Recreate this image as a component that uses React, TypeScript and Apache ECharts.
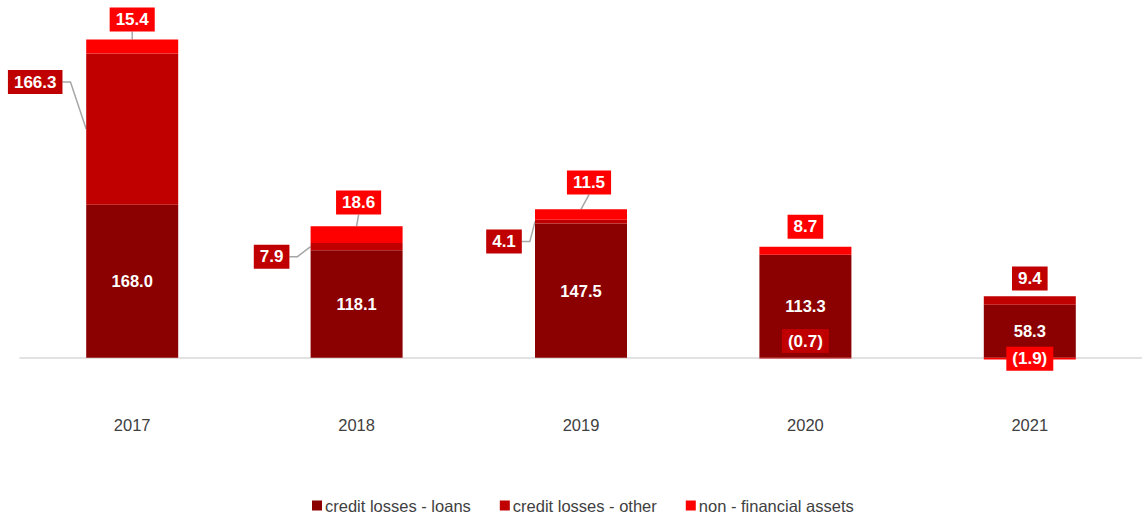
import React, { useEffect, useRef } from "react";
import * as echarts from "echarts";

const categories = ["2017", "2018", "2019", "2020", "2021"];
const loans = [168.0, 118.1, 147.5, 113.3, 58.3];
const other = [166.3, 7.9, 4.1, -0.7, 9.4];
const nfa = [15.4, 18.6, 11.5, 8.7, -1.9];
const seriesNames = ["credit losses - loans", "credit losses - other", "non - financial assets"];

const COLORS = ["#8B0000", "#C00000", "#FF0000"];
const FONT = '"Liberation Sans", Arial, sans-serif';
const BAR_W = 92;
// label offsets (layout only)
const otherOffsets = [[-97, -47], [-85, 10], [-77, 20], [0, -17], [0, -22]];
const nfaOffsets = [[0, -27], [2, -32], [8, -32], [0, -24], [0, 0]];
const otherLeader = [true, true, true, false, false];
const nfaLeader = [true, true, true, false, false];

const fmt = (v: number) => (v < 0 ? `(${Math.abs(v).toFixed(1)})` : v.toFixed(1));

function measure(t: string) {
  const c = document.createElement("canvas").getContext("2d")!;
  c.font = `bold 17px ${FONT}`;
  return c.measureText(t).width;
}

export default function App() {
  const ref = useRef<HTMLDivElement>(null);
  useEffect(() => {
    const chart = echarts.init(ref.current!, undefined, { renderer: "svg" });
    const boxLabel = (color: string, off: number[]) => ({
      show: true,
      position: "inside",
      offset: off,
      formatter: (p: any) => fmt(p.value),
      color: "#fff",
      fontWeight: "bold",
      fontSize: 17,
      fontFamily: FONT,
      lineHeight: 17,
      backgroundColor: color,
      padding: [3.5, 6],
    });
    chart.setOption({
      animation: false,
      textStyle: { fontFamily: FONT },
      grid: { left: 20, right: -5, top: 30, bottom: 142, containLabel: false },
      legend: {
        left: 307,
        top: 492,
        itemWidth: 10,
        itemHeight: 10,
        itemGap: 29,
        icon: "rect",
        textStyle: { color: "#404040", fontSize: 16.5, fontFamily: FONT, padding: [0, 0, 0, -2] },
        data: seriesNames,
      },
      xAxis: {
        type: "category",
        data: categories,
        axisLine: { onZero: true, lineStyle: { color: "#d9d9d9", width: 1.5 } },
        axisTick: { show: false },
        axisLabel: { color: "#404040", fontSize: 16.5, margin: 40, fontFamily: FONT },
      },
      yAxis: {
        type: "value",
        min: -20,
        max: 360,
        show: false,
        splitLine: { show: false },
      },
      series: [
        {
          name: seriesNames[0],
          type: "bar",
          stack: "s",
          barWidth: BAR_W,
          itemStyle: { color: COLORS[0] },
          data: loans,
          label: {
            show: true,
            position: "inside",
            formatter: (p: any) => fmt(p.value),
            color: "#fff",
            fontWeight: "bold",
            fontSize: 16.5,
            fontFamily: FONT,
          },
        },
        {
          name: seriesNames[1],
          type: "bar",
          stack: "s",
          barWidth: BAR_W,
          itemStyle: { color: COLORS[1] },
          data: other.map((v, i) => ({ value: v, label: boxLabel(COLORS[1], otherOffsets[i]) })),
        },
        {
          name: seriesNames[2],
          type: "bar",
          stack: "s",
          barWidth: BAR_W,
          itemStyle: { color: COLORS[2] },
          data: nfa.map((v, i) => ({ value: v, label: boxLabel(COLORS[2], nfaOffsets[i]) })),
        },
      ],
    });

    const px = (i: number, v: number) => chart.convertToPixel({ gridIndex: 0 }, [i, v]) as number[];
    const lines: any[] = [];
    const lineStyle = { stroke: "#a6a6a6", lineWidth: 1.5, fill: null };
    other.forEach((v, i) => {
      if (!otherLeader[i]) return;
      const seg = px(i, loans[i] + v / 2);
      const cx = seg[0];
      const segY = seg[1];
      const lx = cx + otherOffsets[i][0];
      const ly = segY + otherOffsets[i][1];
      const right = lx + measure(fmt(v)) / 2 + 6;
      lines.push({
        type: "polyline",
        silent: true,
        z: 1,
        shape: { points: [[right, ly], [right + 8, ly], [cx - BAR_W / 2, segY]] },
        style: lineStyle,
      });
    });
    nfa.forEach((v, i) => {
      if (!nfaLeader[i]) return;
      const base = loans[i] + Math.max(other[i], 0);
      const seg = px(i, base + v / 2);
      const top = px(i, base + v);
      const lx = seg[0] + nfaOffsets[i][0];
      const ly = seg[1] + nfaOffsets[i][1];
      lines.push({
        type: "line",
        silent: true,
        z: 1,
        shape: { x1: lx, y1: ly + 12, x2: seg[0], y2: top[1] },
        style: lineStyle,
      });
    });
    chart.setOption({ graphic: lines });
    return () => chart.dispose();
  }, []);
  return (
    <div
      ref={ref}
      style={{ position: "fixed", left: 0, top: 0, width: 1142, height: 518, background: "#fff" }}
    />
  );
}
